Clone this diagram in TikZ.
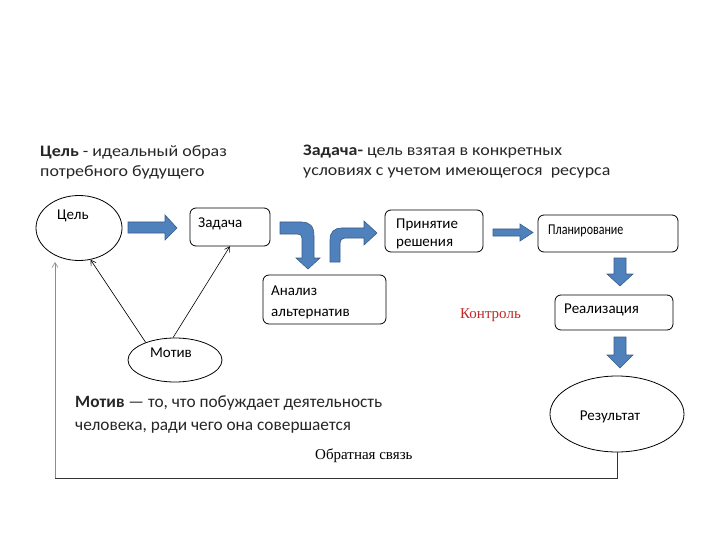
\documentclass[tikz,border=0pt]{standalone}
\usepackage{fontspec}
\setmainfont{Carlito}
\newfontfamily\serifx{Liberation Serif}
\usetikzlibrary{shapes.geometric,arrows.meta}
\definecolor{arrblue}{RGB}{79,129,189}
\definecolor{arredge}{RGB}{56,93,138}
\definecolor{ctrlred}{RGB}{192,40,40}
\tikzset{
  box/.style={draw=black, rounded corners=6pt, line width=0.8pt, fill=white},
  ell/.style={draw=black, ellipse, line width=0.8pt, fill=white},
  barrow/.style={fill=arrblue, draw=arredge, line width=0.6pt},
  hdr/.style={anchor=base west, inner sep=0pt, font=\fontsize{16}{18}\selectfont, text=black!85},
  lbl/.style={anchor=base west, inner sep=0pt, font=\fontsize{15}{17}\selectfont},
  thin/.style={-{Straight Barb[length=5pt,width=6pt]}, line width=0.6pt},
}
\begin{document}
\begin{tikzpicture}[x=1pt,y=-1pt]
\useasboundingbox (0,0) rectangle (720,540);
% header texts
\node[hdr] (h1) at (40,157) {\scalebox{1.12}[1]{\textbf{Цель} - идеальный образ}};
\node[hdr] (h2) at (40,177) {\scalebox{1.12}[1]{потребного будущего}};
\node[hdr] (h3) at (303,156) {\scalebox{1.12}[1]{\textbf{Задача-} цель взятая в конкретных}};
\node[hdr] (h4) at (303,176) {\scalebox{1.12}[1]{условиях с учетом имеющегося \ ресурса}};
% ellipses and boxes
\node[ell, minimum width=86pt, minimum height=65pt] (cel) at (79,228) {};
\node[lbl] (celt) at (57,219) {Цель};
\draw[box] (190,208) rectangle (270,246);
\node[minimum width=80pt, minimum height=38pt, inner sep=0pt] (zad) at (230,227) {};
\node[lbl] (zadt) at (198,227) {Задача};
\draw[box] (385,210) rectangle (483,252);
\node[minimum width=98pt, minimum height=42pt, inner sep=0pt] (prin) at (434,231) {};
\node[lbl] (print1) at (396,229) {Принятие};
\node[lbl] (print2) at (396,246) {решения};
\draw[box] (263,275) rectangle (386,324);
\node[minimum width=123pt, minimum height=49pt, inner sep=0pt] (anal) at (324.5,299.5) {};
\node[lbl] (analt1) at (271,295) {Анализ};
\node[lbl] (analt2) at (271,316) {альтернатив};
\draw[box] (538,215) rectangle (678,252);
\node[minimum width=140pt, minimum height=37pt, inner sep=0pt] (plan) at (608,233.5) {};
\node[lbl] (plant) at (548,235) {\scalebox{0.8}[1]{Планирование}};
\draw[box] (555,295) rectangle (673,330);
\node[minimum width=118pt, minimum height=35pt, inner sep=0pt] (real) at (614,312.5) {};
\node[lbl] (realt) at (564,313) {Реализация};
\node[ell, minimum width=134pt, minimum height=76pt] (res) at (617,414) {};
\node[lbl, anchor=base] (rest) at (610,420) {Результат};
\node[ell, minimum width=94pt, minimum height=44pt] (mot) at (175,360) {};
\node[lbl, anchor=base] (mott) at (171,357) {Мотив};
\node[anchor=base west, inner sep=0pt, font=\serifx\fontsize{15}{17}\selectfont, text=ctrlred] (ctrl) at (460,318) {Контроль};
% motive text
\node[hdr, font=\fontsize{17.3}{20}\selectfont] (m1) at (75,407) {\textbf{Мотив} — то, что побуждает деятельность};
\node[hdr, font=\fontsize{17.3}{20}\selectfont] (m2) at (75,430) {человека, ради чего она совершается};
\node[anchor=base west, inner sep=0pt, font=\serifx\fontsize{15}{17}\selectfont] (obr) at (315,459) {Обратная связь};
% blue arrows
\draw[barrow] (128,222) -- (165,222) -- (165,215) -- (177,228) -- (165,240) -- (165,233) -- (128,233) -- cycle;
\draw[barrow] (280,222) -- (301,222) .. controls (310,222) and (314,226) .. (314,236) -- (314,258) -- (320,258) -- (308,269) -- (296,258) -- (302,258) -- (302,238) .. controls (302,235) and (300,234) .. (297,234) -- (280,234) -- cycle;
\draw[barrow] (330,262) -- (330,240) .. controls (330,232) and (334,228) .. (342,228) -- (364,228) -- (364,221) -- (377,233) -- (364,245) -- (364,238) -- (345,238) .. controls (342,238) and (340,240) .. (340,243) -- (340,262) -- cycle;
\draw[barrow] (493,229) -- (520,229) -- (520,224) -- (533,232.5) -- (520,241) -- (520,236) -- (493,236) -- cycle;
\draw[barrow] (614,258) -- (626,258) -- (626,274) -- (633,274) -- (620,286) -- (607,274) -- (614,274) -- cycle;
\draw[barrow] (614,337) -- (626,337) -- (626,355) -- (633,355) -- (620,368) -- (607,355) -- (614,355) -- cycle;
% thin arrows from motive
\draw[thin] (mot.149) -- (cel.290);
\draw[thin] (mot.95) -- (zad.south);
% feedback
\coordinate (fb1) at (617,478);
\coordinate (fb2) at (55,478);
\coordinate (fbt) at (55,262);
\draw[line width=0.9pt, black!80] (res.south) -- (fb1) -- (fb2);
\draw[thin, black!45] (fb2) -- (fbt);
\end{tikzpicture}
\end{document}
